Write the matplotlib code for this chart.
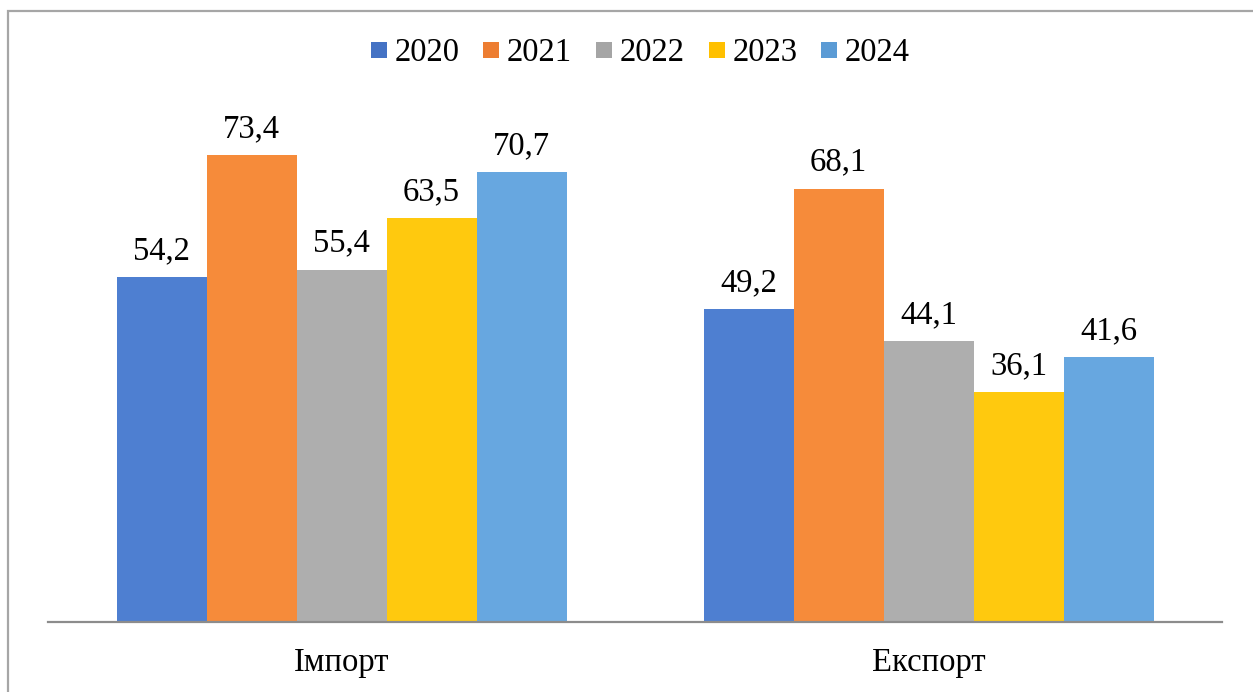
import matplotlib.pyplot as plt
from matplotlib.lines import Line2D
from matplotlib.patches import Rectangle

categories = ['Імпорт', 'Експорт']
years = ['2020', '2021', '2022', '2023', '2024']
values = {
    '2020': [54.2, 49.2],
    '2021': [73.4, 68.1],
    '2022': [55.4, 44.1],
    '2023': [63.5, 36.1],
    '2024': [70.7, 41.6],
}
bar_colors = ['#4E7FD1', '#F68B3A', '#AEAEAE', '#FFC90E', '#67A7E0']
legend_colors = ['#4472C4', '#ED7D31', '#A5A5A5', '#FFC000', '#5B9BD5']

plt.rcParams['font.family'] = ['Liberation Serif', 'DejaVu Serif']
fs = 23.5

fig = plt.figure(figsize=(12.53, 6.92), dpi=100)
ax = fig.add_axes([48 / 1253, 1 - 622 / 692, (1222 - 48) / 1253, (622 - 113) / 692])

w = 90 / 587
x = range(len(categories))
for i, year in enumerate(years):
    pos = [c + (i - 2) * w for c in x]
    bars = ax.bar(pos, values[year], width=w, color=bar_colors[i], linewidth=0)
    for b, v in zip(bars, values[year]):
        ax.annotate(f'{v:.1f}'.replace('.', ','), (b.get_x() + b.get_width() / 2, v),
                    xytext=(0, 8), textcoords='offset points',
                    ha='center', va='bottom', fontsize=fs)

ax.set_xlim(-0.5, 1.5)
ax.set_ylim(0, 80)
ax.set_xticks(list(x))
ax.set_xticklabels(categories, fontsize=fs)
ax.tick_params(axis='x', length=0, pad=18.5)
ax.set_yticks([])
for s in ['top', 'left', 'right']:
    ax.spines[s].set_visible(False)
ax.spines['bottom'].set_color('#8C8C8C')
ax.spines['bottom'].set_linewidth(1.6)

handles = [Line2D([], [], marker='s', linestyle='none', markersize=12.2,
                  markerfacecolor=c, markeredgewidth=0) for c in legend_colors]
fig.legend(handles, years, loc='center', bbox_to_anchor=(640 / 1253, 1 - 53 / 692),
           ncol=5, frameon=False, fontsize=fs, handlelength=0.52,
           handletextpad=0.22, columnspacing=0.72)

fig.patches.append(Rectangle((8 / 1253, -0.2), 1.2, 1.2 - 11 / 692,
                             transform=fig.transFigure, fill=False,
                             edgecolor='#A6A6A6', linewidth=1.6, clip_on=False))

fig.savefig('out.png', dpi=100)
